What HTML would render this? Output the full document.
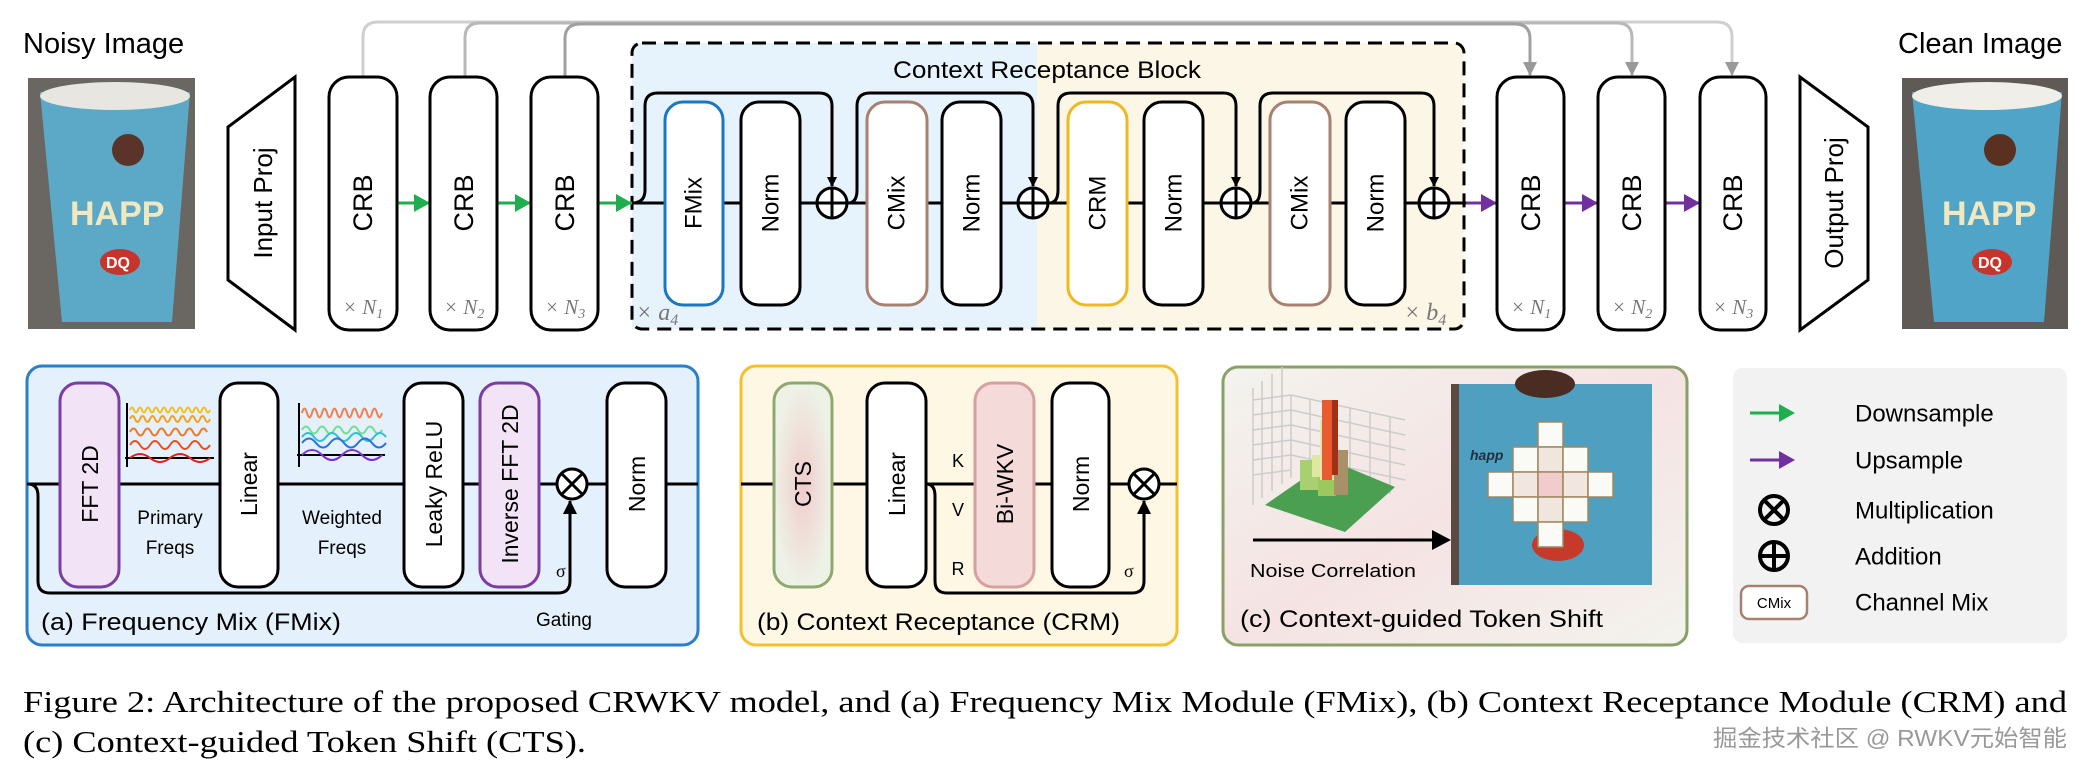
<!DOCTYPE html>
<html><head><meta charset="utf-8"><style>
html,body{margin:0;padding:0;background:#fff;}
svg{display:block;font-family:"Liberation Sans",sans-serif;}
</style></head><body>
<svg width="2089" height="771" viewBox="0 0 2089 771" xmlns="http://www.w3.org/2000/svg" font-family="Liberation Sans, sans-serif">
<defs>
<marker id="ak" markerWidth="10" markerHeight="10" refX="9" refY="5" orient="auto" markerUnits="userSpaceOnUse"><path d="M0,0 L10,5 L0,10 z" fill="#000"/></marker>
<marker id="ag" markerWidth="14" markerHeight="14" refX="13" refY="7" orient="auto" markerUnits="userSpaceOnUse"><path d="M0,0 L14,7 L0,14 z" fill="#999"/></marker>
<marker id="akb" markerWidth="14" markerHeight="14" refX="13" refY="7" orient="auto" markerUnits="userSpaceOnUse"><path d="M0,0 L14,7 L0,14 z" fill="#000"/></marker>
<linearGradient id="cg" x1="0" y1="0" x2="1" y2="1"><stop offset="0" stop-color="#f3f3ee"/><stop offset="0.5" stop-color="#f5e3e3"/><stop offset="1" stop-color="#f3f3ee"/></linearGradient>
<radialGradient id="cts"><stop offset="0" stop-color="#f0cccc"/><stop offset="1" stop-color="#eef2e6"/></radialGradient>
</defs>

<!-- Titles -->
<text x="23" y="53" font-size="29">Noisy Image</text>
<text x="1898" y="53" font-size="29">Clean Image</text>

<!-- Noisy photo -->
<g>
<rect x="28" y="78" width="167" height="251" fill="#6a6662"/>
<polygon points="40,92 190,92 172,322 62,322" fill="#5ba9c6"/>
<ellipse cx="115" cy="96" rx="75" ry="14" fill="#e8e6e0"/>
<circle cx="128" cy="150" r="16" fill="#5a3428"/>
<text x="70" y="225" font-size="34" font-weight="bold" fill="#f2e8c0">HAPP</text>
<ellipse cx="120" cy="262" rx="20" ry="13" fill="#c7342c"/>
<text x="106" y="268" font-size="16" font-weight="bold" fill="#fff">DQ</text>
</g>
<!-- Clean photo -->
<g>
<rect x="1902" y="78" width="166" height="251" fill="#5f5a55"/>
<polygon points="1912,92 2062,92 2044,322 1934,322" fill="#4fa4c8"/>
<ellipse cx="1987" cy="96" rx="75" ry="14" fill="#f0eee8"/>
<circle cx="2000" cy="150" r="16" fill="#5a3020"/>
<text x="1942" y="225" font-size="34" font-weight="bold" fill="#f2e8c0">HAPP</text>
<ellipse cx="1992" cy="262" rx="20" ry="13" fill="#c7342c"/>
<text x="1978" y="268" font-size="16" font-weight="bold" fill="#fff">DQ</text>
</g>

<!-- Skip connections -->
<path d="M363,77 V37 Q363,22 378,22 H1717 Q1732,22 1732,37 V75" fill="none" stroke="#cfcfcf" stroke-width="3" marker-end="url(#ag)"/>
<path d="M465,77 V38 Q465,23 480,23 H1617 Q1632,23 1632,38 V75" fill="none" stroke="#b8b8b8" stroke-width="3" marker-end="url(#ag)"/>
<path d="M565,77 V39 Q565,24 580,24 H1515 Q1530,24 1530,39 V75" fill="none" stroke="#a0a0a0" stroke-width="3" marker-end="url(#ag)"/>

<!-- Dashed block -->
<rect x="632" y="43" width="405" height="286" fill="#e6f2fc"/>
<rect x="1037" y="43" width="427" height="286" fill="#fcf6e6"/>
<rect x="632" y="43" width="832" height="286" rx="10" fill="none" stroke="#000" stroke-width="3" stroke-dasharray="14,8"/>
<text x="1047" y="78" font-size="24" text-anchor="middle" textLength="308" lengthAdjust="spacingAndGlyphs">Context Receptance Block</text>

<!-- Main line -->
<line x1="632" y1="203" x2="1466" y2="203" stroke="#000" stroke-width="3"/>
<path d="M632,203 Q645,203 645,190 V106 Q645,93 658,93 H819 Q832,93 832,106 V186" fill="none" stroke="#000" stroke-width="3" marker-end="url(#ak)"/>
<path d="M848,203 Q857,203 857,190 V106 Q857,93 870,93 H1020 Q1033,93 1033,106 V186" fill="none" stroke="#000" stroke-width="3" marker-end="url(#ak)"/>
<path d="M1049,203 Q1058,203 1058,190 V106 Q1058,93 1071,93 H1223 Q1236,93 1236,106 V186" fill="none" stroke="#000" stroke-width="3" marker-end="url(#ak)"/>
<path d="M1252,203 Q1260,203 1260,190 V106 Q1260,93 1273,93 H1421 Q1434,93 1434,106 V186" fill="none" stroke="#000" stroke-width="3" marker-end="url(#ak)"/>

<g stroke-width="3" fill="#fff">
<rect x="665" y="102" width="58" height="203" rx="18" stroke="#1a78c2"/>
<rect x="741" y="102" width="59" height="203" rx="18" stroke="#000"/>
<rect x="867" y="102" width="60" height="203" rx="18" stroke="#a88070"/>
<rect x="942" y="102" width="59" height="203" rx="18" stroke="#000"/>
<rect x="1068" y="102" width="59" height="203" rx="18" stroke="#f0b820"/>
<rect x="1144" y="102" width="59" height="203" rx="18" stroke="#000"/>
<rect x="1270" y="102" width="60" height="203" rx="18" stroke="#a88070"/>
<rect x="1346" y="102" width="59" height="203" rx="18" stroke="#000"/>
</g>
<g font-size="24" text-anchor="middle" dominant-baseline="central">
<text transform="translate(694,203) rotate(-90)">FMix</text>
<text transform="translate(771,203) rotate(-90)">Norm</text>
<text transform="translate(897,203) rotate(-90)">CMix</text>
<text transform="translate(972,203) rotate(-90)">Norm</text>
<text transform="translate(1098,203) rotate(-90)">CRM</text>
<text transform="translate(1174,203) rotate(-90)">Norm</text>
<text transform="translate(1300,203) rotate(-90)">CMix</text>
<text transform="translate(1376,203) rotate(-90)">Norm</text>
</g>
<g stroke="#000" stroke-width="3" fill="#fff">
<circle cx="832" cy="203" r="15"/><path d="M817,203 H847 M832,188 V218"/>
<circle cx="1033" cy="203" r="15"/><path d="M1018,203 H1048 M1033,188 V218"/>
<circle cx="1236" cy="203" r="15"/><path d="M1221,203 H1251 M1236,188 V218"/>
<circle cx="1434" cy="203" r="15"/><path d="M1419,203 H1449 M1434,188 V218"/>
</g>
<text x="636" y="320" font-size="24" font-family="Liberation Serif, serif" font-style="italic" fill="#777">× a<tspan font-size="16" dy="5">4</tspan></text>
<text x="1404" y="320" font-size="24" font-family="Liberation Serif, serif" font-style="italic" fill="#777">× b<tspan font-size="16" dy="5">4</tspan></text>

<polygon points="228,127 295,77 295,330 228,280" fill="#fff" stroke="#000" stroke-width="3"/>
<text transform="translate(263,203) rotate(-90)" font-size="26" text-anchor="middle" dominant-baseline="central">Input Proj</text>
<polygon points="1800,77 1868,127 1868,280 1800,330" fill="#fff" stroke="#000" stroke-width="3"/>
<text transform="translate(1834,203) rotate(-90)" font-size="26" text-anchor="middle" dominant-baseline="central">Output Proj</text>

<g stroke-width="3">
<line x1="397" y1="203" x2="430" y2="203" stroke="#1fae4e"/>
<line x1="497" y1="203" x2="531" y2="203" stroke="#1fae4e"/>
<line x1="598" y1="203" x2="632" y2="203" stroke="#1fae4e"/>
<line x1="1466" y1="203" x2="1497" y2="203" stroke="#7030a0"/>
<line x1="1564" y1="203" x2="1598" y2="203" stroke="#7030a0"/>
<line x1="1665" y1="203" x2="1700" y2="203" stroke="#7030a0"/>
</g>
<g>
<path d="M414,194 L430,203 L414,212z" fill="#1fae4e"/>
<path d="M515,194 L531,203 L515,212z" fill="#1fae4e"/>
<path d="M616,194 L632,203 L616,212z" fill="#1fae4e"/>
<path d="M1481,194 L1497,203 L1481,212z" fill="#7030a0"/>
<path d="M1582,194 L1598,203 L1582,212z" fill="#7030a0"/>
<path d="M1684,194 L1700,203 L1684,212z" fill="#7030a0"/>
</g>

<g stroke="#000" stroke-width="3" fill="#fff">
<rect x="329" y="77" width="68" height="253" rx="20"/>
<rect x="430" y="77" width="67" height="253" rx="20"/>
<rect x="531" y="77" width="67" height="253" rx="20"/>
<rect x="1497" y="77" width="67" height="253" rx="20"/>
<rect x="1598" y="77" width="67" height="253" rx="20"/>
<rect x="1700" y="77" width="66" height="253" rx="20"/>
</g>
<g font-size="27" text-anchor="middle" dominant-baseline="central">
<text transform="translate(363,203) rotate(-90)">CRB</text>
<text transform="translate(464,203) rotate(-90)">CRB</text>
<text transform="translate(565,203) rotate(-90)">CRB</text>
<text transform="translate(1531,203) rotate(-90)">CRB</text>
<text transform="translate(1632,203) rotate(-90)">CRB</text>
<text transform="translate(1733,203) rotate(-90)">CRB</text>
</g>
<g font-size="21" font-family="Liberation Serif, serif" font-style="italic" fill="#777" text-anchor="middle">
<text x="363" y="314">× N<tspan font-size="14" dy="4">1</tspan></text>
<text x="464" y="314">× N<tspan font-size="14" dy="4">2</tspan></text>
<text x="565" y="314">× N<tspan font-size="14" dy="4">3</tspan></text>
<text x="1531" y="314">× N<tspan font-size="14" dy="4">1</tspan></text>
<text x="1632" y="314">× N<tspan font-size="14" dy="4">2</tspan></text>
<text x="1733" y="314">× N<tspan font-size="14" dy="4">3</tspan></text>
</g>

<!-- (a) panel -->
<rect x="27" y="366" width="671" height="279" rx="15" fill="#e4f0fb" stroke="#2a7fc8" stroke-width="3"/>
<line x1="27" y1="484" x2="698" y2="484" stroke="#000" stroke-width="3"/>
<path d="M28,484 Q38,484 38,496 V581 Q38,593 50,593 H558 Q570,593 570,581 V501" fill="none" stroke="#000" stroke-width="3" marker-end="url(#akb)"/>
<g stroke-width="3">
<rect x="60" y="383" width="59" height="204" rx="18" fill="#f2e4f6" stroke="#7a3ea2"/>
<rect x="220" y="383" width="58" height="204" rx="18" fill="#fff" stroke="#000"/>
<rect x="404" y="383" width="59" height="204" rx="18" fill="#fff" stroke="#000"/>
<rect x="480" y="383" width="59" height="204" rx="18" fill="#f2e4f6" stroke="#7a3ea2"/>
<rect x="607" y="383" width="59" height="204" rx="18" fill="#fff" stroke="#000"/>
</g>
<g font-size="23" text-anchor="middle" dominant-baseline="central">
<text transform="translate(90,484) rotate(-90)">FFT 2D</text>
<text transform="translate(249,484) rotate(-90)">Linear</text>
<text transform="translate(434,484) rotate(-90)">Leaky ReLU</text>
<text transform="translate(510,484) rotate(-90)">Inverse FFT 2D</text>
<text transform="translate(637,484) rotate(-90)">Norm</text>
</g>
<g stroke="#000" stroke-width="3" fill="#fff">
<circle cx="572" cy="484" r="15"/><path d="M561,473 L583,495 M583,473 L561,495"/>
</g>
<g fill="none" stroke-width="2">
<path d="M127,403 V467 M125,458 H214" stroke="#000"/>
<path d="M130,410 q2,-5 4,0 t4,0 t4,0 t4,0 t4,0 t4,0 t4,0 t4,0 t4,0 t4,0 t4,0 t4,0 t4,0 t4,0 t4,0 t4,0 t4,0 t4,0 t4,0 t4,0" stroke="#f0c020"/>
<path d="M130,419 q2.5,-6 5,0 t5,0 t5,0 t5,0 t5,0 t5,0 t5,0 t5,0 t5,0 t5,0 t5,0 t5,0 t5,0 t5,0 t5,0 t5,0" stroke="#f5a020"/>
<path d="M130,432 q3.5,-7 7,0 t7,0 t7,0 t7,0 t7,0 t7,0 t7,0 t7,0 t7,0 t7,0 t7,0" stroke="#f07828"/>
<path d="M130,445 q5,-8 10,0 t10,0 t10,0 t10,0 t10,0 t10,0 t10,0 t10,0" stroke="#e85020"/>
<path d="M130,458 q10,-8 20,0 t20,0 t20,0 t20,0" stroke="#e02020"/>
<path d="M299,403 V467 M297,455 H385" stroke="#000"/>
<path d="M302,413 q2.5,-9 5,0 t5,0 t5,0 t5,0 t5,0 t5,0 t5,0 t5,0 t5,0 t5,0 t5,0 t5,0 t5,0 t5,0 t5,0 t5,0" stroke="#f08050"/>
<path d="M302,430 q4,-7 8,0 t8,0 t8,0 t8,0 t8,0 t8,0 t8,0 t8,0 t8,0 t8,0" stroke="#70e090"/>
<path d="M302,437 q6,-8 12,0 t12,0 t12,0 t12,0 t12,0 t12,0 t12,0" stroke="#30c0d0"/>
<path d="M302,443 q7,-9 14,0 t14,0 t14,0 t14,0 t14,0 t14,0" stroke="#2a70e0"/>
<path d="M302,455 q10,-10 20,0 t20,0 t20,0 t20,0" stroke="#8030d0"/>
</g>
<g font-size="19" text-anchor="middle">
<text x="170" y="524">Primary</text><text x="170" y="554">Freqs</text>
<text x="342" y="524">Weighted</text><text x="342" y="554">Freqs</text>
<text x="564" y="626">Gating</text>
</g>
<text x="556" y="577" font-size="18" font-family="Liberation Serif, serif">σ</text>
<text x="41" y="630" font-size="24" textLength="300" lengthAdjust="spacingAndGlyphs">(a) Frequency Mix (FMix)</text>

<!-- (b) panel -->
<rect x="741" y="366" width="436" height="279" rx="15" fill="#fdf7e4" stroke="#f2c12e" stroke-width="3"/>
<line x1="741" y1="484" x2="1177" y2="484" stroke="#000" stroke-width="3"/>
<path d="M926,484 Q935,484 935,496 V581 Q935,593 947,593 H1132 Q1144,593 1144,581 V501" fill="none" stroke="#000" stroke-width="3" marker-end="url(#akb)"/>
<g stroke-width="3">
<rect x="774" y="383" width="58" height="204" rx="18" fill="url(#cts)" stroke="#8fa870"/>
<rect x="867" y="383" width="59" height="204" rx="18" fill="#fff" stroke="#000"/>
<rect x="975" y="383" width="59" height="204" rx="18" fill="#f5dada" stroke="#d6a0a0"/>
<rect x="1052" y="383" width="57" height="204" rx="18" fill="#fff" stroke="#000"/>
</g>
<g font-size="23" text-anchor="middle" dominant-baseline="central">
<text transform="translate(803,484) rotate(-90)">CTS</text>
<text transform="translate(897,484) rotate(-90)">Linear</text>
<text transform="translate(1005,484) rotate(-90)">Bi-WKV</text>
<text transform="translate(1081,484) rotate(-90)">Norm</text>
</g>
<g stroke="#000" stroke-width="3" fill="#fff">
<circle cx="1144" cy="484" r="15"/><path d="M1133,473 L1155,495 M1155,473 L1133,495"/>
</g>
<g font-size="18" text-anchor="middle">
<text x="958" y="467">K</text><text x="958" y="516">V</text><text x="958" y="575">R</text>
</g>
<text x="1124" y="577" font-size="18" font-family="Liberation Serif, serif">σ</text>
<text x="757" y="630" font-size="24" textLength="363" lengthAdjust="spacingAndGlyphs">(b) Context Receptance (CRM)</text>

<!-- (c) panel -->
<rect x="1223" y="367" width="464" height="278" rx="15" fill="url(#cg)" stroke="#8aa068" stroke-width="3"/>
<g stroke="#cccccc" stroke-width="1.5" fill="none">
<path d="M1253,388 L1253,505 M1262,381 L1262,498 M1272,374 L1272,491 M1282,367 L1282,484 M1291,395 L1291,478"/>
<path d="M1253,400 L1291,395 M1253,415 L1291,410 M1253,430 L1291,425 M1253,445 L1291,440 M1253,460 L1291,455 M1253,475 L1291,470"/>
<path d="M1291,395 L1405,420 M1291,410 L1405,435 M1291,425 L1405,450 M1291,440 L1405,465 M1291,455 L1405,480"/>
<path d="M1310,399 V478 M1330,403 V482 M1350,408 V486 M1370,412 V490 M1390,417 V494"/>
</g>
<polygon points="1265,505 1330,460 1395,487 1345,532" fill="#4aa050"/>
<rect x="1300" y="460" width="20" height="30" fill="#a8d070"/>
<rect x="1318" y="470" width="18" height="26" fill="#9cc860"/>
<rect x="1312" y="455" width="22" height="22" fill="#e0e8a0"/>
<rect x="1334" y="450" width="14" height="45" fill="#a89068"/>
<rect x="1320" y="420" width="14" height="60" fill="#e8e4a8"/>
<rect x="1322" y="400" width="10" height="80" fill="#e85a30"/>
<rect x="1332" y="400" width="6" height="75" fill="#a03018"/>
<line x1="1253" y1="540" x2="1440" y2="540" stroke="#000" stroke-width="3"/>
<path d="M1432,530 L1451,540 L1432,550z" fill="#000"/>
<text x="1250" y="577" font-size="18" textLength="166" lengthAdjust="spacingAndGlyphs">Noise Correlation</text>
<rect x="1451" y="384" width="201" height="201" fill="#4f9fc0"/>
<rect x="1451" y="384" width="8" height="201" fill="#5a4a40"/>
<ellipse cx="1545" cy="384" rx="30" ry="14" fill="#4a2c22"/>
<text x="1470" y="460" font-size="14" font-style="italic" font-weight="bold" fill="#203040">happ</text>
<ellipse cx="1558" cy="545" rx="26" ry="16" fill="#c53a2a"/>
<g stroke="#a08860" stroke-width="1.5">
<rect x="1538" y="422" width="25" height="25" fill="#fafaf6"/>
<rect x="1513" y="447" width="25" height="25" fill="#fafaf6"/>
<rect x="1538" y="447" width="25" height="25" fill="#f0e6de"/>
<rect x="1563" y="447" width="25" height="25" fill="#fafaf6"/>
<rect x="1488" y="472" width="25" height="25" fill="#fafaf6"/>
<rect x="1513" y="472" width="25" height="25" fill="#f2e6e0"/>
<rect x="1538" y="472" width="25" height="25" fill="#f2cccc"/>
<rect x="1563" y="472" width="25" height="25" fill="#f2e6e0"/>
<rect x="1588" y="472" width="25" height="25" fill="#fafaf6"/>
<rect x="1513" y="497" width="25" height="25" fill="#fafaf6"/>
<rect x="1538" y="497" width="25" height="25" fill="#f0e6de"/>
<rect x="1563" y="497" width="25" height="25" fill="#fafaf6"/>
<rect x="1538" y="522" width="25" height="25" fill="#fafaf6"/>
</g>
<text x="1240" y="627" font-size="24" textLength="363" lengthAdjust="spacingAndGlyphs">(c) Context-guided Token Shift</text>

<!-- Legend -->
<rect x="1733" y="368" width="334" height="275" rx="10" fill="#f2f2f2"/>
<line x1="1750" y1="413" x2="1782" y2="413" stroke="#1fae4e" stroke-width="3"/>
<path d="M1779,404 L1795,413 L1779,422z" fill="#1fae4e"/>
<line x1="1750" y1="460" x2="1782" y2="460" stroke="#7030a0" stroke-width="3"/>
<path d="M1779,451 L1795,460 L1779,469z" fill="#7030a0"/>
<g stroke="#000" stroke-width="4" fill="none">
<circle cx="1774" cy="510" r="14"/><path d="M1764,500 L1784,520 M1784,500 L1764,520"/>
<circle cx="1774" cy="556" r="14"/><path d="M1760,556 H1788 M1774,542 V570"/>
</g>
<rect x="1741" y="586" width="66" height="33" rx="8" fill="#fff" stroke="#a88070" stroke-width="2.5"/>
<text x="1774" y="608" font-size="15" text-anchor="middle">CMix</text>
<g font-size="24" dominant-baseline="central">
<text x="1855" y="414">Downsample</text>
<text x="1855" y="461">Upsample</text>
<text x="1855" y="511">Multiplication</text>
<text x="1855" y="557">Addition</text>
<text x="1855" y="603">Channel Mix</text>
</g>

<!-- Caption -->
<text x="23" y="712" font-size="31" font-family="Liberation Serif, serif" textLength="2044" lengthAdjust="spacingAndGlyphs">Figure 2: Architecture of the proposed CRWKV model, and (a) Frequency Mix Module (FMix), (b) Context Receptance Module (CRM) and</text>
<text x="23" y="752" font-size="31" font-family="Liberation Serif, serif" textLength="563" lengthAdjust="spacingAndGlyphs">(c) Context-guided Token Shift (CTS).</text>
<text x="1713" y="746" font-size="23" fill="#999" font-family="Liberation Sans, Noto Sans CJK SC, sans-serif" textLength="354" lengthAdjust="spacingAndGlyphs">掘金技术社区 @ RWKV元始智能</text>
</svg>
</body></html>
